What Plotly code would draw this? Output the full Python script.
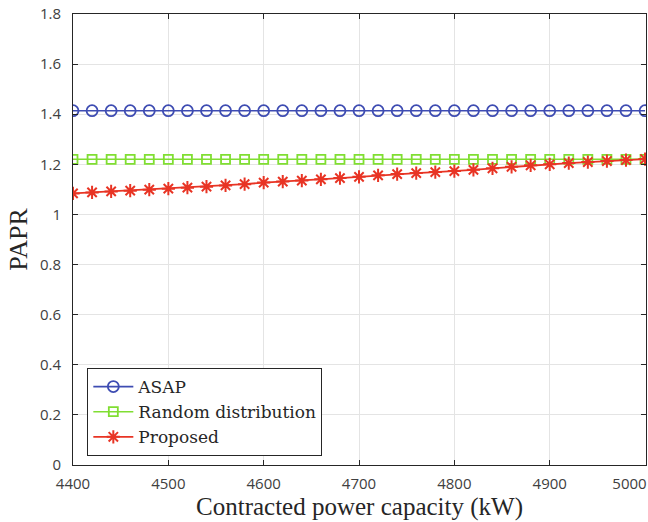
import plotly.graph_objects as go

capacity = list(range(4400, 5001, 20))
asap = [1.414] * len(capacity)
random_dist = [1.220] * len(capacity)
proposed = [1.084, 1.088, 1.092, 1.095, 1.099, 1.103, 1.107, 1.111, 1.116, 1.121,
            1.127, 1.131, 1.135, 1.140, 1.145, 1.150, 1.156, 1.161, 1.165, 1.169,
            1.173, 1.178, 1.184, 1.190, 1.196, 1.200, 1.205, 1.209, 1.213, 1.217, 1.221]

x_ticks = [4400, 4500, 4600, 4700, 4800, 4900, 5000]
x_tick_labels = ["4400", "4500", "4600", "4700", "4800", "4900", "5000" + "\u00a0" * 8]
y_ticks = [0, 0.2, 0.4, 0.6, 0.8, 1.0, 1.2, 1.4, 1.6, 1.8]

blue = "rgb(62,76,178)"
green = "rgb(128,222,50)"
red = "rgb(232,52,36)"

fig = go.Figure()
fig.add_trace(go.Scatter(x=capacity, y=asap, name="ASAP", mode="lines+markers",
                         line=dict(color=blue, width=1.6),
                         marker=dict(symbol="circle-open", size=11, color=blue, line=dict(width=1.8, color=blue))))
fig.add_trace(go.Scatter(x=capacity, y=random_dist, name="Random distribution", mode="lines+markers",
                         line=dict(color=green, width=1.6),
                         marker=dict(symbol="square-open", size=9, color=green, line=dict(width=1.8, color=green))))
fig.add_trace(go.Scatter(x=capacity, y=proposed, name="Proposed", mode="lines+markers",
                         line=dict(color=red, width=1.8),
                         marker=dict(symbol="asterisk-open", size=11, color=red, line=dict(width=2, color=red))))

axis_common = dict(showline=True, linecolor="#262626", linewidth=1, mirror="ticks",
                   ticks="inside", ticklen=5, tickcolor="#262626",
                   showgrid=True, gridcolor="#e4e4e4", gridwidth=1, zeroline=False,
                   ticklabelposition="outside", ticklabeloverflow="allow",
                   automargin=False,
                   tickfont=dict(family="Open Sans", size=15, color="#404040"))

fig.update_xaxes(range=[4400, 5001], tickvals=x_ticks, ticktext=x_tick_labels,
                 ticklabelstandoff=5,
                 title=dict(text="Contracted power capacity (kW)",
                            font=dict(family="Liberation Serif", size=25, color="#262626"), standoff=4),
                 **axis_common)
fig.update_yaxes(range=[0, 1.8], tickvals=y_ticks,
                 ticklabelstandoff=8,
                 title=dict(text="PAPR", font=dict(family="Liberation Serif", size=26, color="#262626"), standoff=4),
                 **axis_common)

fig.update_layout(
    width=648, height=522,
    margin=dict(l=73, r=2, t=14, b=57),
    paper_bgcolor="white", plot_bgcolor="white",
    showlegend=True,
    legend=dict(x=0.025, y=0.215, xanchor="left", yanchor="top",
                bgcolor="white", bordercolor="#262626", borderwidth=1,
                font=dict(family="DejaVu Serif", size=17, color="#262626"),
                tracegroupgap=0, itemwidth=40),
)

fig.write_html("out.html")
